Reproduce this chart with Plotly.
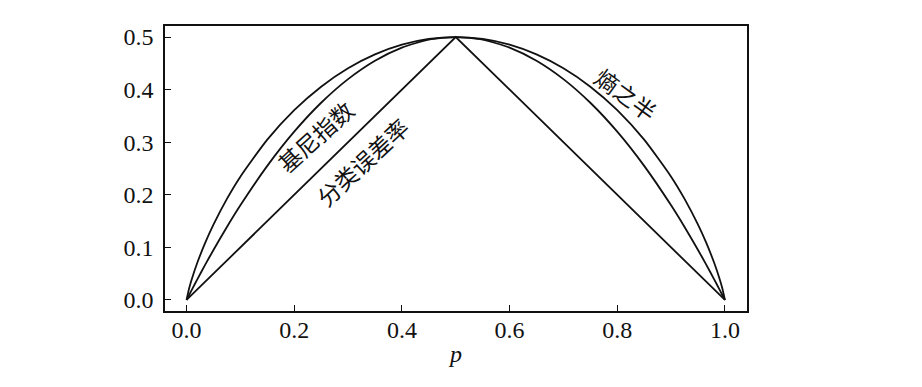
import plotly.graph_objects as go

# p values
p = [0, 0.005, 0.01, 0.02, 0.035, 0.05, 0.075, 0.1, 0.15, 0.2, 0.25, 0.3, 0.35, 0.4, 0.45, 0.5,
     0.55, 0.6, 0.65, 0.7, 0.75, 0.8, 0.85, 0.9, 0.925, 0.95, 0.965, 0.98, 0.99, 0.995, 1.0]

# Gini index
gini = [0, 0.00995, 0.0198, 0.0392, 0.0676, 0.095, 0.1388, 0.18, 0.255, 0.32, 0.375, 0.42, 0.455, 0.48, 0.495, 0.5,
        0.495, 0.48, 0.455, 0.42, 0.375, 0.32, 0.255, 0.18, 0.1388, 0.095, 0.0676, 0.0392, 0.0198, 0.00995, 0]

# Half of entropy
half_entropy = [0, 0.0227, 0.0404, 0.0707, 0.1094, 0.1432, 0.1922, 0.2345, 0.3049, 0.3610, 0.4056, 0.4406, 0.4670, 0.4855, 0.4964, 0.5,
                0.4964, 0.4855, 0.4670, 0.4406, 0.4056, 0.3610, 0.3049, 0.2345, 0.1922, 0.1432, 0.1094, 0.0707, 0.0404, 0.0227, 0]

# Classification error
p_err = [0, 0.5, 1.0]
err = [0, 0.5, 0]

x_ticks = [0.0, 0.2, 0.4, 0.6, 0.8, 1.0]
x_tick_labels = ["0.0", "0.2", "0.4", "0.6", "0.8", "1.0"]
y_ticks = [0.0, 0.1, 0.2, 0.3, 0.4, 0.5]
y_tick_labels = ["0.0", "0.1", "0.2", "0.3", "0.4", "0.5"]

line_color = "#111111"
fig = go.Figure()
fig.add_trace(go.Scatter(x=p, y=half_entropy, mode="lines",
                         line=dict(color=line_color, width=1.8, shape="spline", smoothing=0.6)))
fig.add_trace(go.Scatter(x=p, y=gini, mode="lines",
                         line=dict(color=line_color, width=1.8, shape="spline", smoothing=0.6)))
fig.add_trace(go.Scatter(x=p_err, y=err, mode="lines",
                         line=dict(color=line_color, width=1.8)))

cjk = "Noto Sans CJK SC"
fig.add_annotation(x=0.239, y=0.312, text="基尼指数", showarrow=False, textangle=-42,
                   font=dict(family=cjk, size=23, color="#111"))
fig.add_annotation(x=0.326, y=0.262, text="分类误差率", showarrow=False, textangle=-43,
                   font=dict(family=cjk, size=23, color="#111"))
fig.add_annotation(x=0.817, y=0.392, text="熵之半", showarrow=False, textangle=36,
                   font=dict(family=cjk, size=23, color="#111"))

serif = "Liberation Serif"
fig.update_layout(
    width=906, height=371,
    margin=dict(l=157, r=167, t=18, b=68),
    paper_bgcolor="white", plot_bgcolor="white",
    showlegend=False,
    font=dict(family=serif, size=24, color="#111"),
    xaxis=dict(range=[-0.040, 1.041], tickvals=x_ticks, ticktext=x_tick_labels,
               showline=True, mirror=True, linecolor="#111", linewidth=1.5,
               ticks="inside", ticklen=6, tickcolor="#111", showgrid=False, zeroline=False,
               ticklabelstandoff=-4,
               title=dict(text="<i>p</i>", standoff=4, font=dict(family=serif, size=24))),
    yaxis=dict(range=[-0.021, 0.521], tickvals=y_ticks, ticktext=y_tick_labels,
               showline=True, mirror=True, linecolor="#111", linewidth=1.5,
               ticks="inside", ticklen=6, tickcolor="#111", showgrid=False, zeroline=False,
               ticklabelstandoff=5),
)

fig.write_html("out.html")
